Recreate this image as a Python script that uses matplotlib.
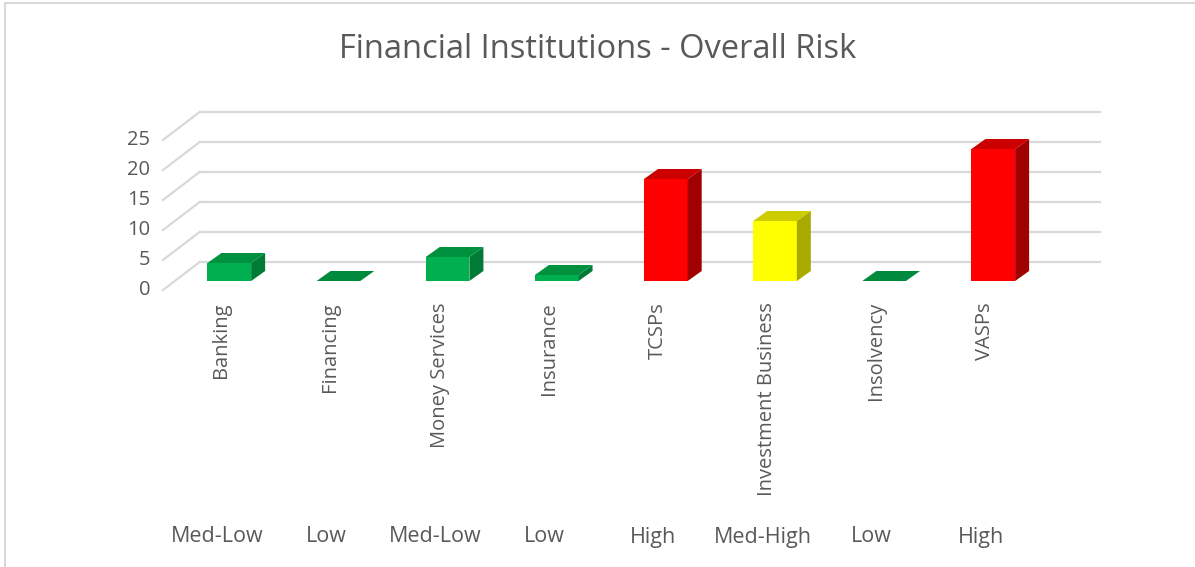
import matplotlib
matplotlib.use("Agg")
import matplotlib.pyplot as plt
from matplotlib.patches import Polygon, Rectangle

plt.rcParams['font.family'] = ['Open Sans', 'DejaVu Sans']

categories = ['Banking', 'Financing', 'Money Services', 'Insurance',
              'TCSPs', 'Investment Business', 'Insolvency', 'VASPs']
values = [3, 0, 4, 1, 17, 10, 0, 22]
risk = ['Med-Low', 'Low', 'Med-Low', 'Low', 'High', 'Med-High', 'Low', 'High']
y_ticks = [0, 5, 10, 15, 20, 25]

# front / top / side shades per risk colour
shades = {
    'green': ('#00B050', '#00913F', '#007A34'),
    'red': ('#FF0000', '#CC0000', '#A00000'),
    'yellow': ('#FFFF00', '#CCCC00', '#A9A900'),
}
bar_colour = ['green', 'green', 'green', 'green', 'red', 'yellow', 'green', 'red']

# pixel layout of the fake 3d plot
W, H = 1195, 567
X0, STEP = 229.3, 109.14      # pixel x of first category, spacing
Y0, UNIT = 281, 6.0           # pixel y (from top) of bar base, px per value unit

fig = plt.figure(figsize=(W / 100, H / 100), dpi=100)
ax = fig.add_axes([0, 0, 1, 1])
ax.set_xlim(-X0 / STEP, (W - X0) / STEP)
ax.set_ylim(-(H - Y0) / UNIT, Y0 / UNIT)
ax.axis('off')


def px(dx, dy):
    # pixel offset -> data offset (dy positive = up)
    return dx / STEP, dy / UNIT


grid_col = '#D9D9D9'
text_col = '#595959'

# back wall gridlines and side wall diagonals
bx0, by = px(200 - X0, Y0 - 261.7)
bx1, _ = px(1100 - X0, 0)
fx, fy = px(163 - X0, Y0 - 290)
for v in y_ticks:
    ax.plot([bx0, bx1], [v + by, v + by], color=grid_col, lw=1.6, zorder=1)
    ax.plot([fx, bx0], [v + fy, v + by], color=grid_col, lw=1.6, zorder=1)
    ax.text(px(150 - X0, 0)[0], v + fy, str(v), ha='right', va='center',
            fontsize=14.5, color=text_col)

# bars
w = 0.4
ddx, ddy = px(14, 10)
for i, (v, c) in enumerate(zip(values, bar_colour)):
    front, top, side = shades[c]
    l, r = i - w / 2, i + w / 2
    if v > 0:
        ax.bar(i, v, width=w, color=front, zorder=3)
        ax.add_patch(Polygon([(r, 0), (r + ddx, ddy), (r + ddx, v + ddy), (r, v)],
                             closed=True, facecolor=side, edgecolor='none', zorder=3))
        ax.add_patch(Polygon([(l, v), (r, v), (r + ddx, v + ddy), (l + ddx, v + ddy)],
                             closed=True, facecolor=top, edgecolor='none', zorder=3))
    else:
        ax.add_patch(Polygon([(l, v), (r, v), (r + ddx, v + ddy), (l + ddx, v + ddy)],
                             closed=True, facecolor='#008A3E', edgecolor='none', zorder=3))

# category labels
lab_dx, _ = px(-8, 0)
for i, name in enumerate(categories):
    ax.text(i + lab_dx, px(0, Y0 - 302)[1], name, rotation=90, ha='center', va='top',
            fontsize=14.5, color=text_col)

# risk labels
risk_dx, _ = px(-12.5, 0)
for i, rk in enumerate(risk):
    ax.text(i + risk_dx, px(0, Y0 - 537)[1], rk, ha='center', va='center',
            fontsize=15.5, color=text_col)

fig.text(0.5, 1 - 50 / H, 'Financial Institutions - Overall Risk', ha='center', va='center',
         fontsize=23.5, color=text_col)

# chart area border (left and top)
fig.add_artist(Rectangle((4.5 / W, -0.1), 1.2, 1.1 - 2.5 / H, transform=fig.transFigure,
                         fill=False, edgecolor='#D9D9D9', lw=1.5))

fig.savefig('out.png', dpi=100, facecolor='white')
